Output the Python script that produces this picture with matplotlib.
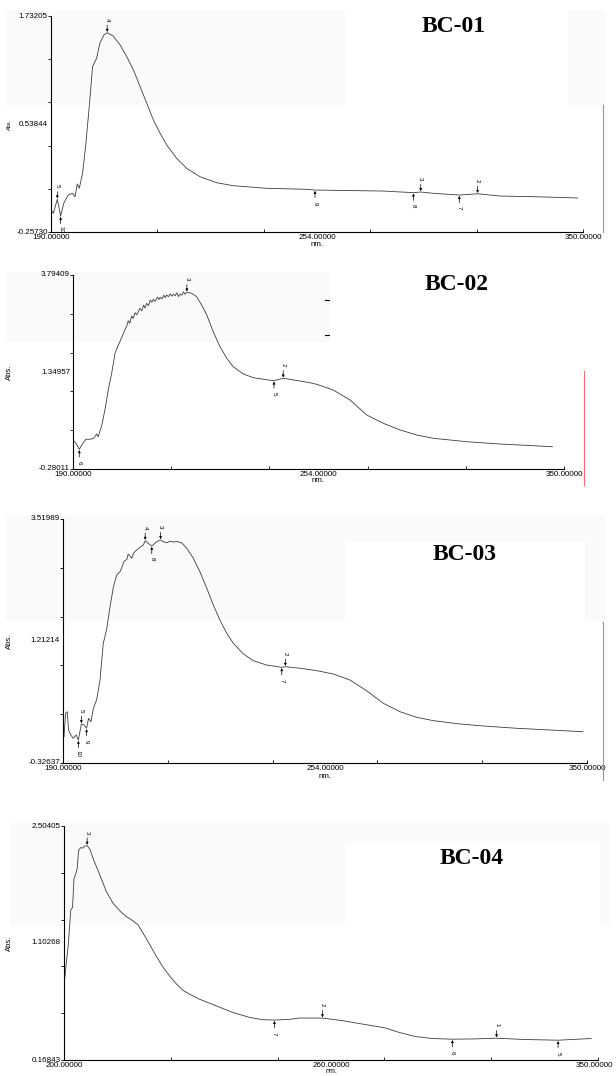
"""Four stacked UV-Vis absorbance spectra (BC-01 .. BC-04), instrument-printout style."""

import matplotlib
matplotlib.use("Agg")
import matplotlib.pyplot as plt  # noqa: E402
from matplotlib.lines import Line2D  # noqa: E402
from matplotlib.patches import Rectangle  # noqa: E402
import numpy as np  # noqa: E402

W, H = 616, 1076

# ---- BC-01 -------------------------------------------------------------
bc01_nm = [190.0, 190.7, 191.9, 192.9, 193.9, 195.2, 196.5, 197.2, 197.9,
           198.5, 199.5, 200.5, 201.5, 202.5, 203.7, 204.7, 205.9, 206.9,
           208.7, 210.8, 212.8, 214.8, 216.8, 218.8, 220.8, 222.8, 224.8,
           227.8, 230.8, 234.8, 239.8, 244.8, 254.9, 266.9, 269.4, 289.9,
           299.0, 301.2, 305.0, 312.8, 318.3, 325.0, 335.0, 348.4]
bc01_abs = [-0.055, -0.085, 0.044, -0.110, 0.013, 0.084, 0.099, 0.068,
            0.185, 0.145, 0.283, 0.560, 0.897, 1.265, 1.342, 1.481, 1.557,
            1.578, 1.548, 1.465, 1.357, 1.235, 1.081, 0.928, 0.774, 0.652,
            0.544, 0.421, 0.329, 0.252, 0.197, 0.169, 0.145, 0.136, 0.129,
            0.120, 0.105, 0.111, 0.099, 0.083, 0.095, 0.074, 0.068, 0.056]
bc01_mark_nm = [191.9, 192.9, 206.9, 269.4, 299.0, 301.2, 312.8, 318.3]
bc01_mark_lbl = ["5", "10", "4", "9", "8", "3", "7", "2"]
bc01_mark_up = [True, False, True, False, False, True, False, True]

# ---- BC-02 -------------------------------------------------------------
bc02_nm = [190.0, 191.0, 192.05, 193.2, 194.2, 195.5, 196.8, 197.7, 198.2,
           199.4, 200.4, 201.5, 202.6, 203.7, 204.8, 205.9, 206.9, 207.5,
           208.0, 208.5, 209.1, 209.6, 210.2, 210.8, 211.8, 212.4, 213.0,
           213.5, 214.0, 214.6, 215.2, 215.7, 216.2, 216.8, 217.5, 218.0,
           218.4, 219.0, 219.6, 220.1, 220.5, 221.1, 221.7, 222.2, 222.7,
           223.3, 223.8, 224.4, 224.9, 225.5, 226.0, 226.5, 227.1, 228.7,
           230.3, 231.9, 233.6, 235.7, 237.9, 240.1, 242.2, 245.5, 248.8,
           252.0, 255.5, 258.5, 264.0, 267.2, 269.4, 274.8, 280.3, 285.7,
           291.1, 296.6, 302.0, 307.4, 318.3, 329.1, 340.0, 346.2]
bc02_abs = [0.329, 0.260, 0.134, 0.260, 0.344, 0.344, 0.365, 0.455, 0.398,
            0.644, 0.959, 1.379, 1.730, 2.150, 2.324, 2.486, 2.639, 2.720,
            2.834, 2.780, 2.933, 2.880, 3.002, 2.960, 3.095, 3.040, 3.160,
            3.100, 3.200, 3.150, 3.270, 3.220, 3.284, 3.240, 3.330, 3.280,
            3.326, 3.290, 3.370, 3.320, 3.374, 3.340, 3.400, 3.350, 3.389,
            3.360, 3.420, 3.340, 3.395, 3.370, 3.440, 3.390, 3.431, 3.410,
            3.338, 3.164, 2.954, 2.603, 2.288, 2.045, 1.868, 1.715, 1.637,
            1.604, 1.574, 1.625, 1.568, 1.532, 1.499, 1.379, 1.169, 0.854,
            0.680, 0.539, 0.434, 0.365, 0.293, 0.245, 0.209, 0.188]
bc02_mark_nm = [192.05, 227.1, 255.5, 258.5]
bc02_mark_lbl = ["6", "3", "5", "2"]
bc02_mark_up = [False, True, False, True]

# ---- BC-03 -------------------------------------------------------------
bc03_nm = [190.3, 190.8, 191.3, 191.7, 192.4, 193.1, 194.0, 194.7, 195.6,
           196.4, 197.2, 197.8, 198.5, 199.3, 200.3, 201.3, 202.3, 203.3,
           204.4, 205.4, 206.4, 207.4, 207.9, 208.6, 209.5, 209.9, 211.0,
           211.5, 212.5, 213.5, 214.5, 215.1, 216.0, 217.1, 218.6, 219.8,
           220.7, 221.7, 222.7, 223.7, 224.9, 226.2, 227.8, 229.8, 231.8,
           233.9, 235.9, 237.9, 240.0, 242.0, 245.1, 248.1, 252.2, 256.8,
           257.9, 262.4, 267.5, 272.5, 277.6, 282.7, 287.8, 292.9, 298.0,
           303.1, 311.2, 318.3, 328.5, 338.7, 348.7]
bc03_abs = [0.088, 0.457, 0.482, 0.194, 0.115, 0.063, 0.115, 0.036, 0.289,
            0.273, 0.221, 0.378, 0.325, 0.536, 0.678, 0.982, 1.561, 1.770,
            2.149, 2.453, 2.637, 2.689, 2.743, 2.847, 2.885, 2.968, 2.900,
            2.979, 3.031, 3.074, 3.110, 3.178, 3.137, 3.094, 3.162, 3.189,
            3.160, 3.146, 3.170, 3.157, 3.165, 3.146, 3.058, 2.900, 2.689,
            2.428, 2.164, 1.928, 1.718, 1.561, 1.392, 1.286, 1.218, 1.182,
            1.192, 1.167, 1.129, 1.077, 0.982, 0.813, 0.615, 0.482, 0.394,
            0.341, 0.289, 0.257, 0.221, 0.194, 0.167]
bc03_mark_nm = [194.7, 195.6, 197.2, 215.1, 217.1, 219.8, 256.8, 257.9]
bc03_mark_lbl = ["10", "5", "9", "4", "8", "3", "7", "2"]
bc03_mark_up = [False, True, False, True, False, True, False, True]

# ---- BC-04 -------------------------------------------------------------
bc04_nm = [200.0, 200.5, 201.2, 201.9, 202.4, 202.8, 203.4, 203.7, 204.1,
           204.7, 205.2, 205.9, 206.5, 207.3, 208.2, 210.1, 211.9, 213.8,
           215.7, 217.5, 219.4, 220.8, 222.2, 224.1, 225.9, 227.8, 229.7,
           231.5, 233.4, 235.3, 238.1, 242.7, 247.4, 252.1, 255.8, 259.1,
           263.2, 266.0, 272.6, 278.2, 284.7, 290.3, 294.0, 298.7, 303.3,
           309.1, 315.5, 321.5, 329.5, 338.8, 348.1]
bc04_abs = [0.908, 1.089, 1.319, 1.666, 1.690, 1.979, 2.039, 2.078, 2.260,
            2.289, 2.283, 2.303, 2.309, 2.269, 2.177, 2.012, 1.848, 1.732,
            1.656, 1.600, 1.557, 1.517, 1.435, 1.319, 1.205, 1.096, 1.007,
            0.930, 0.864, 0.825, 0.775, 0.710, 0.643, 0.594, 0.571, 0.567,
            0.574, 0.587, 0.587, 0.561, 0.522, 0.488, 0.445, 0.403, 0.383,
            0.376, 0.379, 0.386, 0.373, 0.366, 0.383]
bc04_mark_nm = [206.5, 259.1, 272.6, 309.1, 321.5, 338.8]
bc04_mark_lbl = ["3", "7", "2", "6", "1", "5"]
bc04_mark_up = [True, False, True, False, True, False]

# x / y range and the labels the instrument printed at left, middle, right
x_ranges = [(190, 350), (190, 350), (190, 350), (200, 350)]
x_labels = [("190.00000", "254.00000", "350.00000"),
            ("190.00000", "254.00000", "350.00000"),
            ("190.00000", "254.00000", "350.00000"),
            ("200.00000", "260.00000", "350.00000")]
y_ranges = [(-0.25730, 1.73205), (-0.28011, 3.79409),
            (-0.32637, 3.51989), (0.16843, 2.50405)]
y_labels = [("-0.25730", "0.53844", "1.73205"),
            ("-0.28011", "1.34957", "3.79409"),
            ("-0.32637", "1.21214", "3.51989"),
            ("0.16843", "1.10268", "2.50405")]
titles = ["BC-01", "BC-02", "BC-03", "BC-04"]

# axes boxes in pixels: left, right, top, bottom
boxes = [(51, 583, 16, 232), (73, 564, 275, 469),
         (63, 587, 519, 763), (64, 598, 826, 1060)]
title_xy = [(454, 27), (457, 285), (465, 555), (472, 859)]


def fx(px):
    return px / W


def fy(py):
    return 1 - py / H


def mark(ax, x, y, label, up):
    s = 1 if up else -1
    ax.annotate("", xy=(x, y), xytext=(0, s * 5.5), textcoords="offset points",
                arrowprops=dict(arrowstyle="-|>", lw=0.5, color="black",
                                mutation_scale=3.5, shrinkA=0, shrinkB=0.6))
    ax.annotate(label, xy=(x, y), xytext=(0, s * 9.5),
                textcoords="offset points", rotation=270, ha="center",
                va="center", fontsize=4.5, family="Liberation Sans")


def main() -> None:
    fig = plt.figure(figsize=(W / 100, H / 100), dpi=100)
    fig.patch.set_facecolor("white")

    # faint grey blocks left over from the pasted screenshots
    grey = "#fafafa"
    for (x0, y0, x1, y1, c) in [(5, 10, 345, 105, grey),
                                 (568, 10, 605, 105, grey),
                                 (5, 272, 330, 342, grey),
                                 (5, 515, 605, 620, grey),
                                 (345, 542, 585, 620, "white"),
                                 (10, 823, 610, 925, grey),
                                 (345, 843, 600, 925, "white")]:
        fig.add_artist(Rectangle((fx(x0), fy(y1)), fx(x1 - x0), (y1 - y0) / H,
                                 transform=fig.transFigure, facecolor=c,
                                 edgecolor="none", zorder=-2))

    series = [
        (bc01_nm, bc01_abs, bc01_mark_nm, bc01_mark_lbl, bc01_mark_up),
        (bc02_nm, bc02_abs, bc02_mark_nm, bc02_mark_lbl, bc02_mark_up),
        (bc03_nm, bc03_abs, bc03_mark_nm, bc03_mark_lbl, bc03_mark_up),
        (bc04_nm, bc04_abs, bc04_mark_nm, bc04_mark_lbl, bc04_mark_up),
    ]

    for i, (nm, ab, mnm, mlbl, mup) in enumerate(series):
        l, r, t, b = boxes[i]
        ax = fig.add_axes([fx(l), fy(b), (r - l) / W, (b - t) / H])
        ax.patch.set_visible(False)
        ax.plot(nm, ab, color="#3c3c3c", lw=0.6)
        ax.set_xlim(*x_ranges[i])
        ax.set_ylim(*y_ranges[i])
        for side in ("top", "right"):
            ax.spines[side].set_visible(False)
        for side in ("left", "bottom"):
            ax.spines[side].set_linewidth(0.8)
        ax.set_xticks(np.linspace(*x_ranges[i], 6))
        ax.set_yticks(np.linspace(*y_ranges[i], 6))
        ax.tick_params(axis="x", direction="in", length=2.5, width=0.6,
                       labelbottom=False)
        ax.tick_params(axis="y", direction="out", length=2, width=0.6,
                       labelleft=False)

        tk = dict(fontsize=5.8, family="Liberation Sans",
                  transform=ax.transAxes)
        for frac, txt in zip((0, 0.5, 1), y_labels[i]):
            ax.text(-0.006, frac, txt, ha="right", va="center", **tk)
        for frac, txt in zip((0, 0.5), x_labels[i][:2]):
            ax.text(frac, -0.008, txt, ha="center", va="top", **tk)
        if i == 3:
            ax.text(1.028, -0.008, x_labels[i][2], ha="right", va="top", **tk)
            ax.text(0.5, -0.036, "nm.", ha="center", va="top",
                    **dict(tk, fontsize=5))
        else:
            ax.text(1, -0.008, x_labels[i][2], ha="center", va="top", **tk)
            ax.text(0.5, -0.042, "nm.", ha="center", va="top", **tk)

        fig.text(fx(9), fy((t + b) / 2), "Abs.", rotation=90, ha="center",
                 va="center", fontsize=5.5 if i else 4, family="Liberation Sans")

        for x, lbl, up in zip(mnm, mlbl, mup):
            mark(ax, x, float(np.interp(x, nm, ab)), lbl, up)

        tx, ty = title_xy[i]
        fig.text(fx(tx), fy(ty), titles[i], ha="center", va="center",
                 fontsize=17, fontweight="bold", family="Liberation Serif")

    # stray red cursor lines and tick dashes from the original screenshots
    for (x, y0, y1) in [(603, 105, 232), (584, 371, 485), (603, 622, 780)]:
        fig.add_artist(Line2D([fx(x), fx(x)], [fy(y0), fy(y1)],
                              transform=fig.transFigure, color="#f07070",
                              lw=0.8))
    for y in (300, 335):
        fig.add_artist(Line2D([fx(325), fx(329)], [fy(y), fy(y)],
                              transform=fig.transFigure, color="black",
                              lw=0.8))

    fig.savefig("out.png", dpi=100)


if __name__ == "__main__":
    main()
